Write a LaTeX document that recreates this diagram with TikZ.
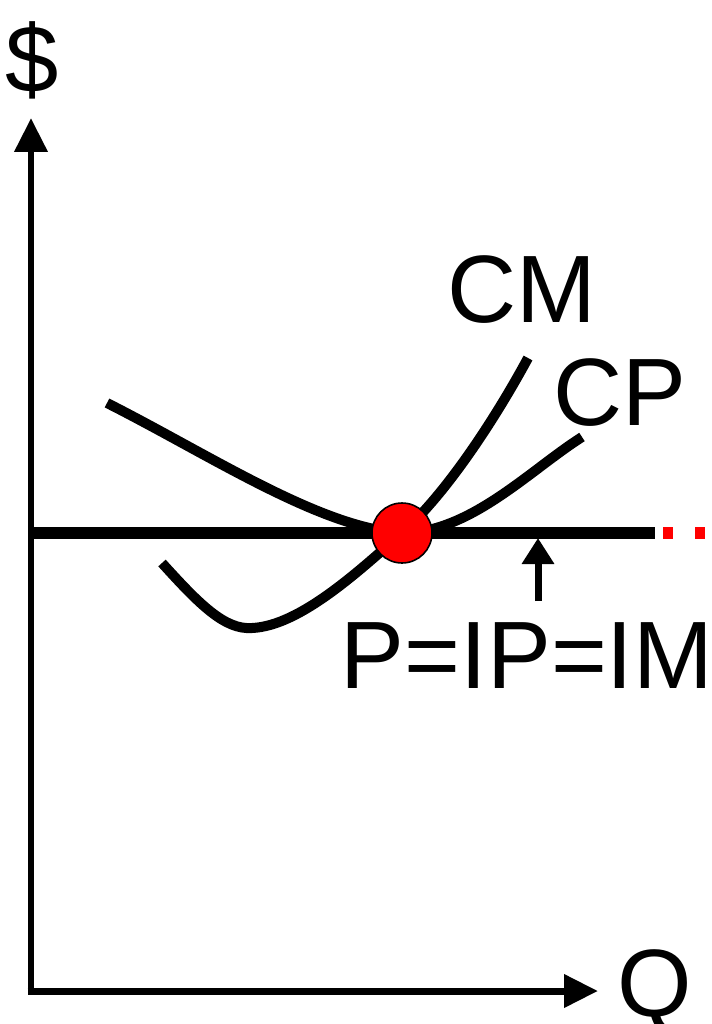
\documentclass[tikz,border=0pt]{standalone}
\usepackage{fontspec}
\setmainfont{Liberation Sans}
\usetikzlibrary{arrows.meta}

\begin{document}
\begin{tikzpicture}[
        x=0.02cm, y=-0.02cm,
        every node/.style={inner sep=0pt, font=\fontsize{54.5}{58}\selectfont},
        axis/.style={line width=0.14cm, -{Triangle[width=0.64cm, length=0.68cm]}},
        curve/.style={line width=0.2cm},
        priceline/.style={line width=0.24cm},
        pointer/.style={line width=0.14cm, -{Triangle[width=0.62cm, length=0.52cm]}},
        equilibrium/.style={circle, draw=black, line width=0.9pt, fill=red, minimum size=1.2cm}
    ]

        \useasboundingbox (0,0) rectangle (712,1024);

        % axes
        \coordinate (origin) at (31,991);
        \coordinate (ytip)   at (31,118);
        \coordinate (xtip)   at (598,991);
        \draw[axis] ([yshift=-0.07cm]origin) -- (ytip);
        \draw[axis] ([xshift=-0.07cm]origin) -- (xtip);
        \node[anchor=base] (dollar) at (32,92)   {\$};
        \node[anchor=base] (qty)    at (655,1016) {Q};

        % price line
        \coordinate (pstart) at (31,533);
        \coordinate (pend)   at (655,533);
        \coordinate (dotend) at (712,533);
        \draw[priceline] (pstart) -- (pend);
        \draw[priceline, red, dash pattern=on 0.2cm off 0.44cm] ([xshift=0.16cm]pend) -- (dotend);

        % cost curves
        \coordinate (eq)      at (402,533);
        \coordinate (cmstart) at (162,563);
        \coordinate (cmmin)   at (252,628);
        \coordinate (cmend)   at (528,358);
        \coordinate (cpstart) at (107,403);
        \coordinate (cpend)   at (582,437);
        \draw[curve] (cmstart) .. controls (200,605) and (225,630) .. (cmmin)
                               .. controls (300,626) and (360,570) .. (eq)
                               .. controls (450,490) and (500,410) .. (cmend);
        \draw[curve] (cpstart) .. controls (210,455) and (320,528) .. (eq)
                               .. controls (470,533) and (530,470) .. (cpend);
        \node[equilibrium] (eqdot) at (eq) {};

        % labels
        \node[anchor=base] (cm) at (522,322) {CM};
        \node[anchor=base] (cp) at (620,425) {CP};
        \node[anchor=base] (pim) at (527,688) {P=IP=IM};
        \coordinate (ptail) at (538,601);
        \coordinate (ptip)  at (538,538);
        \draw[pointer] (ptail) -- (ptip);

    \end{tikzpicture}
\end{document}
